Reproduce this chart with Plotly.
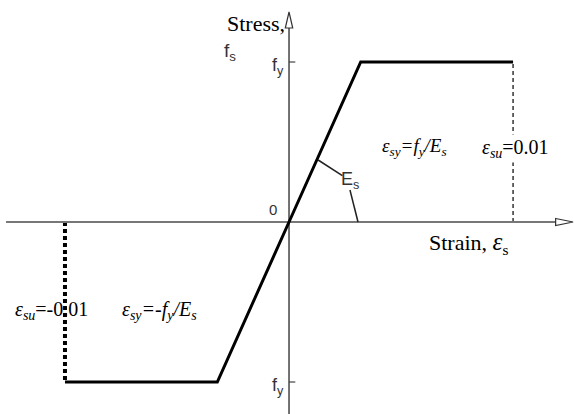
import plotly.graph_objects as go

# Idealised elastic - perfectly plastic steel model (stress normalised by fy)
strain = [-0.01, -0.0032, 0.0, 0.0032, 0.01]
stress = [-1.0, -1.0, 0.0, 1.0, 1.0]

eps_su = 0.01          # ultimate strain
fy = 1.0               # yield stress (normalised)

# axis extents in data units
x_lo, x_hi = -0.0129, 0.01272
y_lo, y_hi = -1.2, 1.3875

fig = go.Figure()

# ultimate-strain markers
fig.add_trace(go.Scatter(x=[eps_su, eps_su], y=[0, fy], mode="lines",
                         line=dict(color="black", width=1.2, dash="4px,3px"),
                         hoverinfo="skip"))
fig.add_trace(go.Scatter(x=[-eps_su, -eps_su], y=[0, -fy], mode="lines",
                         line=dict(color="black", width=4, dash="4px,3px"),
                         hoverinfo="skip"))

# coordinate axes
fig.add_trace(go.Scatter(x=[-0.01263, 0.01195], y=[0, 0], mode="lines",
                         line=dict(color="#777777", width=2), hoverinfo="skip"))
fig.add_trace(go.Scatter(x=[0, 0], y=[y_lo, 1.215], mode="lines",
                         line=dict(color="#444444", width=1.5), hoverinfo="skip"))
# fy ticks
for yv in (fy, -fy):
    fig.add_trace(go.Scatter(x=[0, 0.00028], y=[yv, yv], mode="lines",
                             line=dict(color="#444444", width=1.2), hoverinfo="skip"))

# stress-strain curve
fig.add_trace(go.Scatter(x=strain, y=stress, mode="lines",
                         line=dict(color="black", width=3), hoverinfo="skip"))

# Es leader lines
fig.add_trace(go.Scatter(x=[0.0013, 0.00238], y=[0.3875, 0.29], mode="lines",
                         line=dict(color="#222222", width=1.5), hoverinfo="skip"))
fig.add_trace(go.Scatter(x=[0.00272, 0.00290, 0.00308], y=[0.2, 0.10, 0.0], mode="lines",
                         line=dict(color="#222222", width=1.5, shape="spline"),
                         hoverinfo="skip"))

shapes = [
    # hollow arrowhead on strain axis
    dict(type="path", xref="x", yref="y",
         path="M 0.01190 0.022 L 0.01268 0 L 0.01190 -0.022 Z",
         fillcolor="white", line=dict(color="#333333", width=1.2)),
    # hollow arrowhead on stress axis
    dict(type="path", xref="x", yref="y",
         path="M -0.000165 1.2125 L 0 1.3125 L 0.000165 1.2125 Z",
         fillcolor="white", line=dict(color="#333333", width=1.2)),
]

serif = "Liberation Serif"
sans = "Liberation Sans"

ann = []
def txt(x, y, s, font, size, color="black", xanchor="center", bg=None):
    d = dict(x=x, y=y, xref="x", yref="y", text=s, showarrow=False,
             xanchor=xanchor, yanchor="middle",
             font=dict(family=font, size=size, color=color))
    if bg:
        d["bgcolor"] = bg
    ann.append(d)

txt(-0.0001, 1.24, "Stress,", serif, 22, xanchor="right")
txt(-0.00265, 1.06, "f<sub>s</sub>", sans, 19, color="#333333")
txt(-0.0005, 0.97, "f<sub>y</sub>", sans, 18, color="#333333")
txt(-0.0005, -1.03, "f<sub>y</sub>", sans, 18, color="#333333")
txt(-0.00072, 0.08, "0", sans, 15, color="#333333")
txt(0.0027, 0.26, "E<sub>s</sub>", sans, 18, color="#333333")
txt(0.00558, 0.47, "<i>ε<sub>sy</sub>=f<sub>y</sub>/E<sub>s</sub></i>", serif, 19)
txt(0.0101, 0.46, "<i>ε<sub>su</sub></i>=0.01", serif, 20, bg="white")
txt(0.0080, -0.13, "Strain, <span style='font-size:25px'><i>ε</i></span><sub>s</sub>",
    serif, 22)
txt(-0.01058, -0.555, "<i>ε<sub>su</sub></i>=-0.01", serif, 20)
txt(-0.0058, -0.555, "<i>ε<sub>sy</sub>=-f<sub>y</sub>/E<sub>s</sub></i>", serif, 20)

fig.update_layout(
    width=574, height=414,
    margin=dict(l=0, r=0, t=0, b=0),
    paper_bgcolor="white", plot_bgcolor="white",
    showlegend=False,
    xaxis=dict(range=[x_lo, x_hi], visible=False, fixedrange=True),
    yaxis=dict(range=[y_lo, y_hi], visible=False, fixedrange=True),
    shapes=shapes, annotations=ann,
)

fig.write_html("out.html")
